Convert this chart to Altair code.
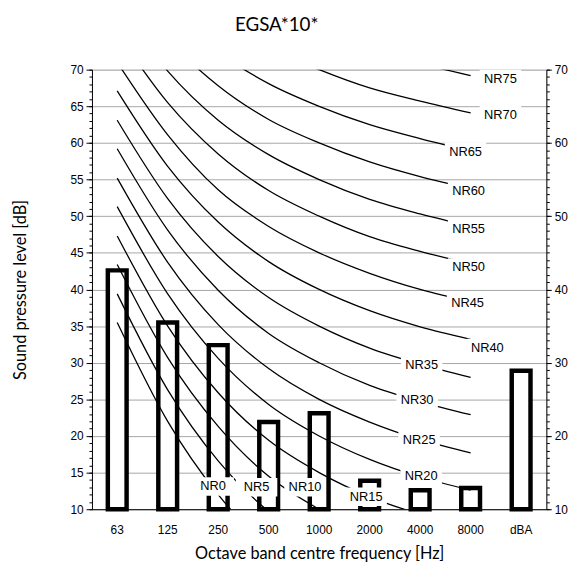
import altair as alt
import pandas as pd

# ---------------- data ----------------
categories = ["63", "125", "250", "500", "1000", "2000", "4000", "8000", "dBA"]
measured = [42.6, 35.5, 32.4, 21.9, 23.1, 13.9, 12.6, 12.9, 28.9]

nr_bands = ["63", "125", "250", "500", "1000", "2000", "4000", "8000"]
nr_levels = [0, 5, 10, 15, 20, 25, 30, 35, 40, 45, 50, 55, 60, 65, 70, 75]
nr_curves = [
    [35.5, 22.0, 12.0, 4.8, 0.0, -3.5, -6.1, -8.0],
    [39.4, 26.3, 16.6, 9.7, 5.0, 1.6, -1.0, -2.8],
    [43.4, 30.7, 21.3, 14.5, 10.0, 6.6, 4.2, 2.3],
    [47.3, 35.0, 25.9, 19.4, 15.0, 11.7, 9.3, 7.4],
    [51.3, 39.4, 30.6, 24.3, 20.0, 16.8, 14.4, 12.6],
    [55.2, 43.7, 35.2, 29.2, 25.0, 21.9, 19.5, 17.7],
    [59.2, 48.1, 39.9, 34.0, 30.0, 26.9, 24.7, 22.9],
    [63.1, 52.4, 44.5, 38.9, 35.0, 32.0, 29.8, 28.0],
    [67.1, 56.8, 49.2, 43.8, 40.0, 37.1, 34.9, 33.2],
    [71.0, 61.1, 53.6, 48.6, 45.0, 42.2, 40.0, 38.3],
    [75.0, 65.5, 58.5, 53.5, 50.0, 47.2, 45.2, 43.5],
    [78.9, 69.8, 63.1, 58.4, 55.0, 52.3, 50.3, 48.6],
    [82.9, 74.2, 67.8, 63.2, 60.0, 57.4, 55.4, 53.8],
    [86.8, 78.5, 72.4, 68.1, 65.0, 62.5, 60.6, 58.9],
    [90.8, 82.9, 77.1, 73.0, 70.0, 67.5, 65.7, 64.1],
    [94.7, 87.2, 81.7, 77.9, 75.0, 72.6, 70.8, 69.2],
]

label_texts = ["NR0", "NR5", "NR10", "NR15", "NR20", "NR25", "NR30", "NR35",
               "NR40", "NR45", "NR50", "NR55", "NR60", "NR65", "NR70", "NR75"]
label_bands = ["250", "500", "1000", "2000", "4000", "4000", "4000", "4000",
               "8000", "8000", "8000", "8000", "8000", "8000", "8000", "8000"]
label_values = [13.1, 13.0, 13.0, 11.7, 14.5, 19.5, 24.9, 29.7,
                32.0, 38.2, 43.0, 48.2, 53.4, 58.8, 63.8, 68.7]
# shift of each label along x, in fractions of one band
label_shift = [-0.10, -0.24, -0.28, -0.07, 0.02, -0.02, -0.06, 0.03,
               0.33, -0.06, -0.04, -0.04, -0.04, -0.10, 0.59, 0.59]

left_major = list(range(10, 71, 5))
right_major = list(range(10, 71, 10))
minor = list(range(10, 71))

# ---------------- tables ----------------
bar_df = pd.DataFrame({"band": categories, "value": measured})
line_df = pd.DataFrame(
    [{"level": lv, "band": b, "value": v}
     for lv, row in zip(nr_levels, nr_curves) for b, v in zip(nr_bands, row)]
)
lab_df = pd.DataFrame({
    "label": label_texts,
    "value": label_values,
    "xpos": [categories.index(b) + 0.5 + s for b, s in zip(label_bands, label_shift)],
})
minor_df = pd.DataFrame({"value": minor})

# ---------------- scales / axes ----------------
yscale = alt.Scale(domain=[10, 70], nice=False, zero=False)
xscale = alt.Scale(domain=categories, paddingInner=0, paddingOuter=0)

TICK_FONT = "Liberation Sans"
TITLE_FONT = "Lato"

left_axis = alt.Axis(
    orient="left",
    values=left_major, tickCount=200, format="d",
    labelFont=TICK_FONT, labelFontSize=12, labelColor="black", labelPadding=3,
    labelOverlap=False,
    tickSize=6, tickColor="black",
    grid=True, gridColor="#a6a6a6",
    domainColor="black",
    title="Sound pressure level [dB]",
    titleFont=TITLE_FONT, titleFontSize=16.5, titleFontWeight="normal", titleColor="black",
    titlePadding=42,
)
right_axis = alt.Axis(
    orient="right",
    values=right_major, tickCount=200, format="d",
    labelFont=TICK_FONT, labelFontSize=12, labelColor="black", labelPadding=3,
    labelOverlap=False,
    tickSize=5, tickColor="black",
    grid=False, domainColor="black", title=None,
)
left_minor_axis = alt.Axis(
    orient="left", values=minor, tickCount=200, labels=False, tickSize=3, tickColor="black",
    grid=False, domain=False, title=None,
)
right_minor_axis = alt.Axis(
    orient="right", values=minor, tickCount=200, labels=False, tickSize=3, tickColor="black",
    grid=False, domain=False, title=None,
)
x_axis = alt.Axis(
    ticks=False, labelAngle=0, labelPadding=16,
    labelFont=TICK_FONT, labelFontSize=12, labelColor="black",
    domainColor="black", grid=False,
    title="Octave band centre frequency [Hz]",
    titleFont=TITLE_FONT, titleFontSize=16.5, titleFontWeight="normal", titleColor="black",
    titlePadding=10,
)

# ---------------- layers ----------------
bars = alt.Chart(bar_df).mark_bar(
    width=19, fill="white", stroke="black", strokeWidth=4.5
).encode(
    x=alt.X("band:N", sort=categories, scale=xscale, axis=x_axis),
    y=alt.Y("value:Q", scale=yscale, axis=left_axis),
    y2=alt.datum(10),
)

lines = alt.Chart(line_df).mark_line(
    color="black", strokeWidth=1.3, interpolate="monotone", clip=True
).encode(
    x=alt.X("band:N", sort=categories, scale=xscale),
    y=alt.Y("value:Q", scale=yscale),
    detail="level:N",
)

main = alt.layer(bars, lines)

lx = alt.X("xpos:Q", scale=alt.Scale(domain=[0, 9], nice=False, zero=False), axis=None)
boxes = alt.Chart(lab_df).mark_point(
    shape="M-1,-0.45L1,-0.45L1,0.45L-1,0.45Z", filled=True, fill="white",
    opacity=1, strokeWidth=0, size=42 * 42,
).encode(
    x=lx,
    y=alt.Y("value:Q", scale=yscale, axis=right_axis),
)
texts = alt.Chart(lab_df).mark_text(
    font=TICK_FONT, fontSize=13, color="black", align="center", baseline="middle"
).encode(
    x=lx,
    y=alt.Y("value:Q", scale=yscale),
    text="label:N",
)
labels = alt.layer(boxes, texts)

minor_left = alt.Chart(minor_df).mark_point(opacity=0).encode(
    y=alt.Y("value:Q", scale=yscale, axis=left_minor_axis),
)
minor_right = alt.Chart(minor_df).mark_point(opacity=0).encode(
    y=alt.Y("value:Q", scale=yscale, axis=right_minor_axis),
)

chart = alt.layer(main, labels, minor_left, minor_right).resolve_scale(
    x="independent", y="independent"
).properties(
    width=460,
    height=445,
    padding={"left": 85, "top": 59, "right": 30, "bottom": 50},
    autosize=alt.AutoSizeParams(type="none"),
    title=alt.TitleParams(
        "EGSA*10*", font=TITLE_FONT, fontSize=19, fontWeight="normal", color="black",
        anchor="middle", frame="group", dx=-43, offset=29,
    ),
).configure_view(stroke=None).configure(background="white")

chart.save("out.html", embed_options={"renderer": "svg", "actions": False})
